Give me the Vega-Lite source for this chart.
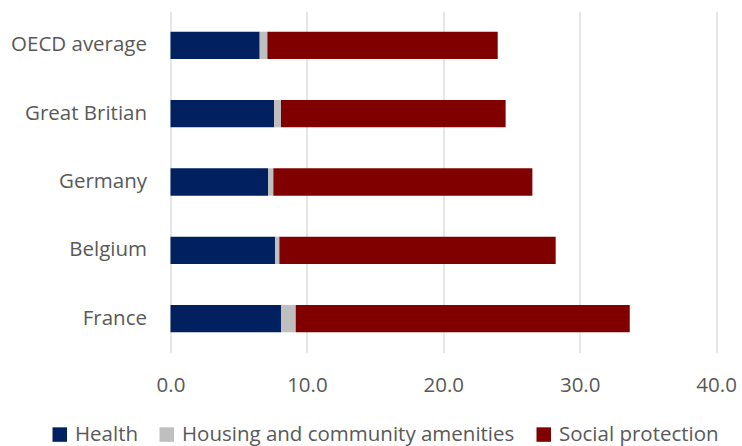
{
  "$schema": "https://vega.github.io/schema/vega-lite/v6.json",
  "autosize": "none",
  "width": 545.6,
  "height": 341.6,
  "padding": {"left": 170.5, "top": 11.2, "right": 26, "bottom": 93.2},
  "background": "#ffffff",
  "config": {
    "view": {"stroke": null},
    "font": "Open Sans",
    "axis": {"labelColor": "#595959", "labelFont": "Open Sans", "labelFontSize": 20.5},
    "legend": {"labelColor": "#595959", "labelFont": "Open Sans", "labelFontSize": 20.5}
  },
  "data": {
    "values": [
      {"country": "OECD average", "category": "Health", "value": 6.54},
      {"country": "OECD average", "category": "Housing and community amenities", "value": 0.56},
      {"country": "OECD average", "category": "Social protection", "value": 16.89},
      {"country": "Great Britian", "category": "Health", "value": 7.59},
      {"country": "Great Britian", "category": "Housing and community amenities", "value": 0.51},
      {"country": "Great Britian", "category": "Social protection", "value": 16.47},
      {"country": "Germany", "category": "Health", "value": 7.15},
      {"country": "Germany", "category": "Housing and community amenities", "value": 0.39},
      {"country": "Germany", "category": "Social protection", "value": 18.99},
      {"country": "Belgium", "category": "Health", "value": 7.66},
      {"country": "Belgium", "category": "Housing and community amenities", "value": 0.32},
      {"country": "Belgium", "category": "Social protection", "value": 20.26},
      {"country": "France", "category": "Health", "value": 8.10},
      {"country": "France", "category": "Housing and community amenities", "value": 1.08},
      {"country": "France", "category": "Social protection", "value": 24.49}
    ]
  },
  "mark": {"type": "bar"},
  "encoding": {
    "y": {
      "field": "country",
      "type": "nominal",
      "sort": ["OECD average", "Great Britian", "Germany", "Belgium", "France"],
      "scale": {"paddingInner": 0.6, "paddingOuter": 0.3},
      "axis": {"title": null, "domain": false, "ticks": false, "labelPadding": 24, "grid": false}
    },
    "x": {
      "field": "value",
      "type": "quantitative",
      "stack": "zero",
      "scale": {"domain": [0, 40], "nice": false},
      "axis": {
        "title": null,
        "values": [0, 10, 20, 30, 40],
        "format": ".1f",
        "domain": false,
        "ticks": false,
        "grid": true,
        "gridColor": "#D9D9D9",
        "gridWidth": 1.3,
        "labelPadding": 23,
        "labelFlush": false
      }
    },
    "color": {
      "field": "category",
      "type": "nominal",
      "scale": {
        "domain": ["Health", "Housing and community amenities", "Social protection"],
        "range": ["#002060", "#BFBFBF", "#800000"]
      },
      "legend": {
        "title": null,
        "orient": "none",
        "direction": "horizontal",
        "columns": 3,
        "legendX": -121,
        "legendY": 413,
        "symbolType": "square",
        "symbolSize": 210,
        "symbolStrokeWidth": 0,
        "labelOffset": 5,
        "labelLimit": 500,
        "columnPadding": 18
      }
    }
  }
}
